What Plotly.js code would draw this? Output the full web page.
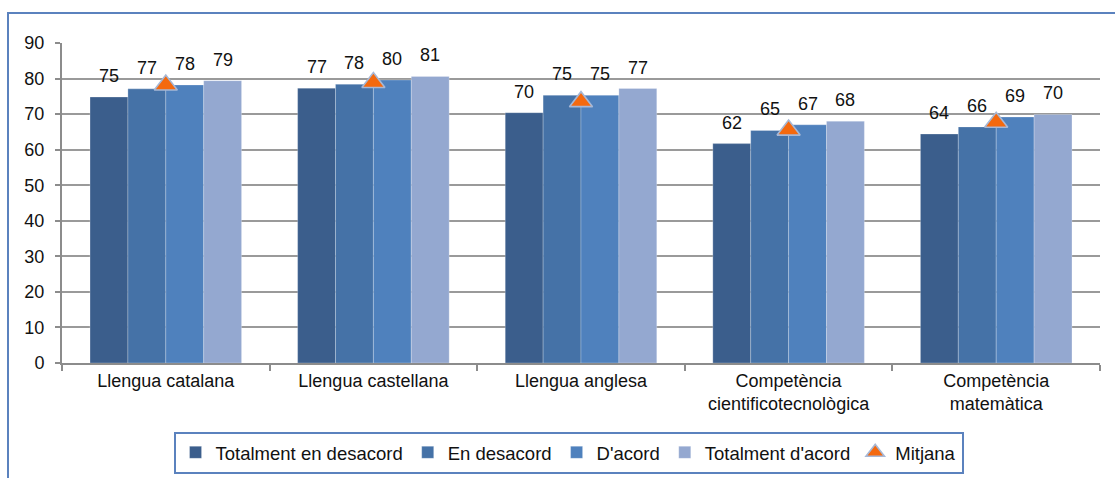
<!DOCTYPE html>
<html>
<head>
<meta charset="utf-8">
<script src="https://cdn.plot.ly/plotly-3.0.1.min.js"></script>
<style>
html,body{margin:0;padding:0;background:#fff;}
#wrap{position:relative;width:1115px;height:478px;overflow:hidden;}
#chart{position:absolute;left:0;top:0;width:1115px;height:478px;}
#frame{position:absolute;left:7px;top:12px;width:1200px;height:600px;border-left:2px solid #5B82BE;border-top:2px solid #5B82BE;pointer-events:none;z-index:10;}
</style>
</head>
<body>
<div id="wrap"><div id="chart"></div><div id="frame"></div></div>
<script>
const categories = ['Llengua catalana', 'Llengua castellana', 'Llengua anglesa', 'Competència<br>cientificotecnològica', 'Competència<br>matemàtica'];
const seriesNames = ['Totalment en desacord', 'En desacord', "D'acord", "Totalment d'acord"];
const totalmentDesacord = [74.8, 77.3, 70.4, 61.7, 64.4];
const enDesacord = [77.1, 78.4, 75.3, 65.4, 66.4];
const dAcord = [78.2, 79.6, 75.3, 67.0, 69.2];
const totalmentAcord = [79.4, 80.6, 77.2, 68.0, 69.9];
const mitjana = [78.2, 78.9, 73.5, 65.5, 67.7];
const yTicks = [0, 10, 20, 30, 40, 50, 60, 70, 80, 90];

const series = [totalmentDesacord, enDesacord, dAcord, totalmentAcord];
const colors = ['#3B5E8C', '#4572A7', '#4F81BD', '#94A8D0'];
const FONT = 'Liberation Sans, Arial, sans-serif';

const traces = series.map((vals, i) => ({
  type: 'bar',
  x: categories,
  y: vals,
  name: seriesNames[i],
  marker: {color: colors[i], line: {color: 'rgba(255,255,255,0.35)', width: 0.7}},
  hoverinfo: 'y+name'
}));
traces.push({
  type: 'scatter',
  mode: 'markers',
  x: categories,
  y: mitjana,
  name: 'Mitjana',
  marker: {symbol: 'triangle-up', size: 20, color: '#F4690F', line: {color: '#A7B8D6', width: 1.6}}
});

const bargap = 0.27;
const barW = (1 - bargap) / series.length;
const annotations = [];
series.forEach((vals, s) => {
  const off = -(1 - bargap) / 2 + barW * (s + 0.5);
  vals.forEach((v, c) => {
    annotations.push({
      x: c + off, y: v, xref: 'x', yref: 'y',
      text: String(Math.round(v)),
      showarrow: false, yanchor: 'bottom', xanchor: 'center', yshift: 9,
      font: {family: FONT, size: 18, color: '#111'}
    });
  });
});

const layout = {
  width: 1115, height: 478,
  margin: {l: 62, r: 15, t: 43, b: 115, autoexpand: false},
  paper_bgcolor: '#fff', plot_bgcolor: '#fff',
  barmode: 'group', bargap: bargap, bargroupgap: 0,
  font: {family: FONT, size: 18, color: '#111'},
  showlegend: true,
  legend: {
    orientation: 'h', x: 0.488, xanchor: 'center', y: -0.215, yanchor: 'top',
    bordercolor: '#5B82BE', borderwidth: 2, bgcolor: '#fff',
    font: {family: FONT, size: 18.5, color: '#111'}, traceorder: 'normal'
  },
  xaxis: {
    type: 'category', showline: true, linecolor: '#8C8C8C', linewidth: 2,
    ticks: 'outside', tickson: 'boundaries', ticklen: 6, tickcolor: '#8C8C8C', tickwidth: 2,
    showgrid: false, automargin: false, tickfont: {family: FONT, size: 18, color: '#111'}
  },
  yaxis: {
    range: [0, 90], tickvals: yTicks, ticktext: yTicks.map(String),
    showline: true, linecolor: '#8C8C8C', linewidth: 2,
    ticks: 'outside', ticklen: 5, tickcolor: '#8C8C8C', tickwidth: 2, ticklabelstandoff: 7,
    showgrid: true, gridcolor: '#9A9A9A', gridwidth: 2, zeroline: false, automargin: false,
    tickfont: {family: FONT, size: 18, color: '#111'}
  },
  annotations: annotations
};

Plotly.newPlot('chart', traces, layout, {displayModeBar: false, staticPlot: true});
</script>
</body>
</html>
